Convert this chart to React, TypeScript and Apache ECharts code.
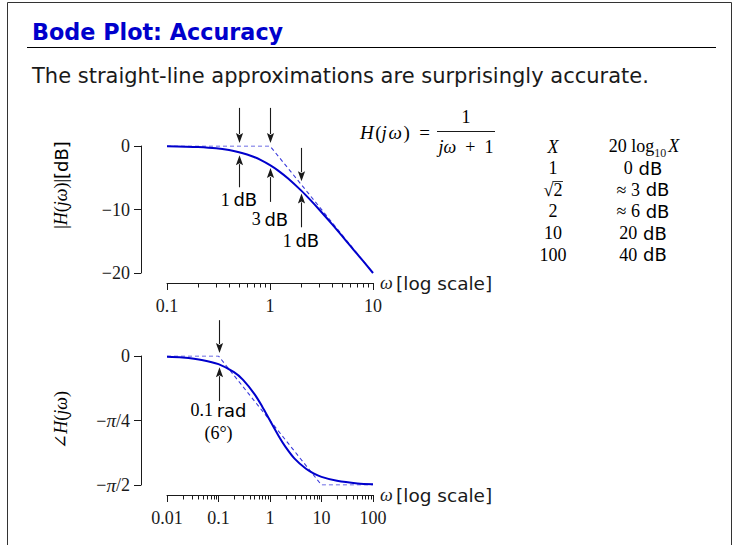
import React, { useEffect, useRef } from "react";
import * as echarts from "echarts";

// ---------- data ----------
const magOmega = [0.1, 0.15, 0.2, 0.3, 0.4, 0.5, 0.6, 0.7, 0.8, 1, 1.2, 1.5, 2, 2.5, 3, 4, 5, 6, 7, 8, 10];
const magDb = [-0.04, -0.1, -0.17, -0.37, -0.64, -0.97, -1.34, -1.73, -2.15, -3.01, -3.87, -5.12, -6.99, -8.6, -10.0, -12.3, -14.15, -15.7, -17.0, -18.1, -20.0];
const magAsymOmega = [0.1, 1, 10];
const magAsymDb = [0, 0, -20];

const phaseOmega = [0.01, 0.02, 0.05, 0.1, 0.2, 0.3, 0.5, 0.7, 1, 1.5, 2, 3, 5, 7, 10, 20, 50, 100];
const phaseDeg = [-0.6, -1.1, -2.9, -5.7, -11.3, -16.7, -26.6, -35.0, -45.0, -56.3, -63.4, -71.6, -78.7, -81.9, -84.3, -87.1, -88.9, -89.4];
const phaseAsymOmega = [0.01, 0.1, 10, 100];
const phaseAsymDeg = [0, 0, -90, -90];

// arrows: [omega, from, to]
const magArrows = [
  [0.5, 6, 0],
  [0.5, -6.5, -0.97],
  [1, 6, 0],
  [1, -8.8, -3.01],
  [2, -0.3, -6.02],
  [2, -12.8, -6.99],
];
const phaseArrows = [
  [0.1, 25, 0],
  [0.1, -31.4, -5.7],
];
const magLabelPos = [
  [0.5, -8.5],
  [1, -11.5],
  [2, -14.9],
];
const magLabelText = ["{n|1}{u|\u2009dB}", "{n|3}{u|\u2009dB}", "{n|1}{u|\u2009dB}"];
const phaseLabelPos = [
  [0.1, -38],
  [0.1, -54],
];
const phaseLabelText = ["{n|0.1}{u|\u2009rad}", "{n|(6°)}"];

const magYTicks = [0, -10, -20];
const phaseYTickLabels: Record<string, string> = {
  "0": "{n|0}",
  "-45": "{n|−}{i|π}{n|/4}",
  "-90": "{n|−}{i|π}{n|/2}",
};

const tableX = ["1", "√2", "2", "10", "100"];
const tableDb = ["{n|0}{u| dB}", "{n|≈ 3}{u| dB}", "{n|≈ 6}{u| dB}", "{n|20}{u| dB}", "{n|40}{u| dB}"];

// ---------- styles ----------
const SERIF = "'Liberation Serif', 'DejaVu Serif', serif";
const SANS = "'DejaVu Sans', sans-serif";
const INK = "#1a1a1a";
const BLUE = "#0000cc";
const DASH = "#3c3cdc";
const FS = 18;
const FU = 18;

const richMath = {
  n: { fontFamily: SERIF, fontSize: FS, color: INK },
  i: { fontFamily: SERIF, fontSize: FS, fontStyle: "italic", color: INK },
  u: { fontFamily: SANS, fontSize: FU, color: INK },
  s: { fontFamily: SANS, fontSize: FU, color: INK },
};

function measure(text: string, font: string) {
  const c = document.createElement("canvas").getContext("2d");
  if (!c) return text.length * 8;
  c.font = font;
  return c.measureText(text).width;
}

function minorTicks(lo: number, hi: number) {
  const out: number[] = [];
  for (let d = lo; d < hi * 0.999; d *= 10) {
    for (let m = 2; m <= 9; m++) out.push(+(d * m).toPrecision(6));
  }
  return out;
}

function tickSeries(idx: number, yMin: number, values: number[], offset: number) {
  return {
    type: "custom",
    xAxisIndex: idx,
    yAxisIndex: idx,
    clip: false,
    silent: true,
    z: 5,
    data: values.map((v) => [v, yMin]),
    renderItem: (_p: any, api: any) => {
      const p = api.coord([api.value(0), api.value(1)]);
      const x = Math.round(p[0]) + 0.5;
      const y0 = Math.round(p[1] + offset);
      return {
        type: "line",
        shape: { x1: x, y1: y0, x2: x, y2: y0 + 4.5 },
        style: { stroke: INK, lineWidth: 1 },
      };
    },
  };
}

function arrowSeries(idx: number, data: number[][]) {
  return {
    type: "custom",
    xAxisIndex: idx,
    yAxisIndex: idx,
    clip: false,
    silent: true,
    z: 6,
    data,
    renderItem: (_p: any, api: any) => {
      const w = api.value(0);
      const p1 = api.coord([w, api.value(1)]);
      const p2 = api.coord([w, api.value(2)]);
      const x = Math.round(p1[0]) + 0.5;
      const dir = p2[1] > p1[1] ? 1 : -1;
      const tip = p2[1] - dir * 3;
      const base = tip - dir * 10;
      return {
        type: "group",
        children: [
          { type: "line", shape: { x1: x, y1: p1[1], x2: x, y2: base + dir * 1 }, style: { stroke: INK, lineWidth: 1.1 } },
          {
            type: "polygon",
            shape: { points: [[x, tip], [x - 3.6, base], [x, base + dir * 2], [x + 3.6, base]] },
            style: { fill: INK },
          },
        ],
      };
    },
  };
}

function labelSeries(idx: number, pos: number[][], texts: string[]) {
  return {
    type: "custom",
    xAxisIndex: idx,
    yAxisIndex: idx,
    clip: false,
    silent: true,
    z: 6,
    data: pos,
    renderItem: (params: any, api: any) => {
      const p = api.coord([api.value(0), api.value(1)]);
      return {
        type: "text",
        x: p[0],
        y: p[1],
        style: {
          text: texts[params.dataIndex],
          align: "center",
          verticalAlign: "middle",
          rich: richMath,
        },
      };
    },
  };
}

function pairs(xs: number[], ys: number[]) {
  return xs.map((x, i) => [x, ys[i]]);
}

export default function App() {
  const ref = useRef<HTMLDivElement>(null);
  useEffect(() => {
    if (!ref.current) return;
    const chart = echarts.init(ref.current, undefined, { renderer: "svg" });

    const axisLine = { show: true, onZero: false, lineStyle: { color: INK, width: 1 } };
    const xAxisCommon = (idx: number, min: number, max: number) => ({
      type: "log",
      logBase: 10,
      gridIndex: idx,
      min,
      max,
      offset: 10,
      axisLine,
      axisTick: { show: true, length: 7, lineStyle: { color: INK } },
      minorTick: { show: false },
      splitLine: { show: false },
      axisLabel: {
        margin: 14,
        fontFamily: SERIF,
        fontSize: FS,
        color: INK,
        formatter: (v: number) => String(+v.toPrecision(6)),
      },
      name: "{i|ω} {s|[log scale]}",
      nameLocation: "end",
      nameGap: 7,
      nameTextStyle: {
        rich: { ...richMath, s: { fontFamily: SANS, fontSize: 18.5, color: INK } },
        verticalAlign: "middle",
      },
    });

    const yAxisCommon = (idx: number, min: number, max: number, interval: number) => ({
      type: "value",
      gridIndex: idx,
      min,
      max,
      interval,
      offset: 26,
      axisLine,
      axisTick: { show: true, length: 7, lineStyle: { color: INK } },
      splitLine: { show: false },
    });

    // header "20 log10 X" layout
    const wLog = measure("20 log", `${FS}px ${SERIF}`);
    const wSub = measure("10", `12px ${SERIF}`);
    const wX = measure("X", `italic ${FS}px ${SERIF}`);
    const hdrW = wLog + wSub + 2 + wX;
    const hdrX0 = 644 - hdrW / 2;
    const wRad = measure("√", `${FS}px ${SERIF}`);
    const w2 = measure("2", `${FS}px ${SERIF}`);
    const sqrtX0 = 553 - (wRad + w2) / 2;

    const option: any = {
      animation: false,
      backgroundColor: "#ffffff",
      grid: [
        { left: 167, top: 146, width: 206, height: 127, containLabel: false },
        { left: 167, top: 356, width: 206, height: 129, containLabel: false },
      ],
      xAxis: [xAxisCommon(0, 0.1, 10), xAxisCommon(1, 0.01, 100)],
      yAxis: [
        {
          ...yAxisCommon(0, -20, 0, 10),
          axisLabel: {
            margin: 11,
            fontFamily: SERIF,
            fontSize: FS,
            color: INK,
            formatter: (v: number) => (magYTicks.indexOf(v) >= 0 && v < 0 ? "−" + Math.abs(v) : String(v)),
          },
        },
        {
          ...yAxisCommon(1, -90, 0, 45),
          axisLabel: {
            margin: 11,
            formatter: (v: number) => phaseYTickLabels[String(Math.round(v))] || "",
            rich: { ...richMath, i: { ...richMath.i, fontSize: 19 } },
          },
        },
      ],
      series: [
        {
          type: "line",
          xAxisIndex: 0,
          yAxisIndex: 0,
          data: pairs(magAsymOmega, magAsymDb),
          showSymbol: false,
          lineStyle: { color: DASH, width: 1.1, type: [4, 3] },
          z: 2,
        },
        {
          type: "line",
          xAxisIndex: 0,
          yAxisIndex: 0,
          data: pairs(magOmega, magDb),
          smooth: 0.3,
          showSymbol: false,
          lineStyle: { color: BLUE, width: 2 },
          z: 3,
        },
        {
          type: "line",
          xAxisIndex: 1,
          yAxisIndex: 1,
          data: pairs(phaseAsymOmega, phaseAsymDeg),
          showSymbol: false,
          lineStyle: { color: DASH, width: 1.1, type: [4, 3] },
          z: 2,
        },
        {
          type: "line",
          xAxisIndex: 1,
          yAxisIndex: 1,
          data: pairs(phaseOmega, phaseDeg),
          smooth: 0.3,
          showSymbol: false,
          lineStyle: { color: BLUE, width: 2 },
          z: 3,
        },
        tickSeries(0, -20, minorTicks(0.1, 10), 10),
        tickSeries(1, -90, minorTicks(0.01, 100), 10),
        arrowSeries(0, magArrows),
        arrowSeries(1, phaseArrows),
        labelSeries(0, magLabelPos, magLabelText),
        labelSeries(1, phaseLabelPos, phaseLabelText),
      ],
      graphic: [
        // frame
        { type: "line", shape: { x1: 7.5, y1: 2.5, x2: 731.5, y2: 2.5 }, style: { stroke: "#333", lineWidth: 1 } },
        { type: "line", shape: { x1: 7.5, y1: 2.5, x2: 7.5, y2: 545 }, style: { stroke: "#333", lineWidth: 1 } },
        { type: "line", shape: { x1: 731.5, y1: 2.5, x2: 731.5, y2: 545 }, style: { stroke: "#333", lineWidth: 1 } },
        // title
        {
          type: "text",
          x: 32,
          y: 32,
          style: { text: "Bode Plot: Accuracy", font: `bold 22.3px ${SANS}`, fill: BLUE, verticalAlign: "middle" },
        },
        { type: "line", shape: { x1: 27, y1: 47.5, x2: 716, y2: 47.5 }, style: { stroke: "#000", lineWidth: 1.2 } },
        {
          type: "text",
          x: 32,
          y: 76,
          style: {
            text: "The straight-line approximations are surprisingly accurate.",
            font: `21px ${SANS}`,
            fill: INK,
            verticalAlign: "middle",
          },
        },
        // y-axis titles
        {
          type: "text",
          x: 61,
          y: 185,
          rotation: Math.PI / 2,
          style: {
            text: "{n||}{i|H}{n|(}{i|jω}{n|)|}{u|[dB]}",
            rich: richMath,
            align: "center",
            verticalAlign: "middle",
          },
        },
        {
          type: "text",
          x: 61,
          y: 420,
          rotation: Math.PI / 2,
          style: {
            text: "{n|∠}{i|H}{n|(}{i|jω}{n|)}",
            rich: richMath,
            align: "center",
            verticalAlign: "middle",
          },
        },
        // formula
        {
          type: "text",
          x: 430,
          y: 132,
          style: {
            text: "{i|H\u200a}{n|(}{i|j\u200aω}{n|\u200a)\u2002=}",
            rich: { ...richMath, i: { ...richMath.i, fontSize: 19 }, n: { ...richMath.n, fontSize: 19 } },
            align: "right",
            verticalAlign: "middle",
          },
        },
        { type: "text", x: 466, y: 117, style: { text: "{n|1}", rich: richMath, align: "center", verticalAlign: "middle" } },
        { type: "line", shape: { x1: 437, y1: 131.5, x2: 495, y2: 131.5 }, style: { stroke: INK, lineWidth: 1 } },
        {
          type: "text",
          x: 466,
          y: 147,
          style: { text: "{i|jω}{n|  +  1}", rich: richMath, align: "center", verticalAlign: "middle" },
        },
        // table header
        { type: "text", x: 553, y: 147, style: { text: "{i|X}", rich: richMath, align: "center", verticalAlign: "middle" } },
        { type: "text", x: hdrX0, y: 146, style: { text: "{n|20 log}", rich: richMath, align: "left", verticalAlign: "middle" } },
        {
          type: "text",
          x: hdrX0 + wLog,
          y: 152.5,
          style: { text: "10", font: `12px ${SERIF}`, fill: INK, align: "left", verticalAlign: "middle" },
        },
        {
          type: "text",
          x: hdrX0 + wLog + wSub + 2,
          y: 146,
          style: { text: "{i|X}", rich: richMath, align: "left", verticalAlign: "middle" },
        },
        // table rows
        ...tableX.map((t, i) => ({
          type: "text",
          x: 553,
          y: 168 + i * 21.7,
          style: { text: `{n|${t}}`, rich: richMath, align: "center", verticalAlign: "middle" },
        })),
        ...tableDb.map((t, i) => ({
          type: "text",
          x: 643,
          y: 168 + i * 21.7,
          style: { text: t, rich: richMath, align: "center", verticalAlign: "middle" },
        })),
        {
          type: "line",
          shape: { x1: sqrtX0 + wRad - 1, y1: 181.5, x2: sqrtX0 + wRad + w2 + 0.5, y2: 181.5 },
          style: { stroke: INK, lineWidth: 0.9 },
        },
      ],
    };
    chart.setOption(option);
    return () => chart.dispose();
  }, []);
  return <div ref={ref} style={{ position: "fixed", left: 0, top: 0, width: 738, height: 545, background: "#fff" }} />;
}
